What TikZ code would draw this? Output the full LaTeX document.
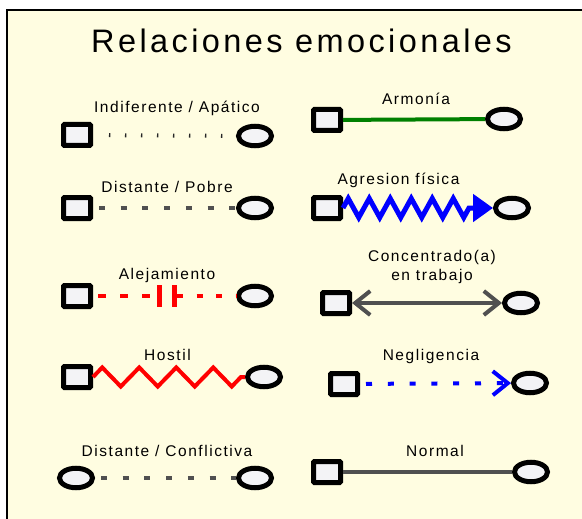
\documentclass[tikz,border=0pt]{standalone}
\usepackage{fontspec}
\setmainfont{Liberation Sans}
\newfontfamily\lblfont[LetterSpace=10]{Liberation Sans}
\newfontfamily\ttlfont[LetterSpace=10.5]{Liberation Sans}
\usetikzlibrary{shapes.geometric,arrows.meta,decorations.pathmorphing}
\definecolor{bgyellow}{RGB}{255,253,225}
\definecolor{boxfill}{RGB}{243,243,246}
\definecolor{relgray}{RGB}{80,80,80}
\definecolor{relgreen}{RGB}{0,128,0}
\definecolor{relred}{RGB}{255,0,0}
\definecolor{relblue}{RGB}{0,0,255}
\tikzset{
  male/.style={draw=black, line width=5pt, fill=boxfill, minimum width=27pt,
    minimum height=21pt, inner sep=0pt, rounded corners=1pt},
  female/.style={ellipse, draw=black, line width=5pt, fill=boxfill,
    minimum width=33pt, minimum height=19.5pt, inner sep=0pt},
  lbl/.style={anchor=base, inner sep=0pt, font=\lblfont\fontsize{15.5}{19}\selectfont},
  ttl/.style={anchor=base, inner sep=0pt, font=\ttlfont\fontsize{32.5}{36}\selectfont},
  relbar/.style={fill=relred, minimum width=5pt, minimum height=22pt, inner sep=0pt},
  rel/.style={line width=4pt},
}
\begin{document}
\begin{tikzpicture}[x=1pt,y=-1pt]
            \clip (0,0) rectangle (582,519);
            \fill [white] (0,0) rectangle (582,519);
            \filldraw [fill=bgyellow, draw=black, line width=1.5pt] (7,10) rectangle (600,540);%
            
            % Title
            \node [ttl] (title) at (301.5,53) {Relaciones emocionales};%
            
            % Left column: symbols
            \node [male] (sq1) at (77,135) {};%
            \node [female] (ci1) at (255,136) {};%
            \node [male] (sq2) at (77,208) {};%
            \node [female] (ci2) at (255,208) {};%
            \node [male] (sq3) at (77,296) {};%
            \node [female] (ci3) at (255,296) {};%
            \node [male] (sq4) at (77,377) {};%
            \node [female] (ci4) at (264,377) {};%
            \node [female] (cl5) at (76,478) {};%
            \node [female] (ci5) at (255,478) {};%
            
            % Right column: symbols
            \node [male] (sq6) at (327,120) {};%
            \node [female] (ci6) at (504,119) {};%
            \node [male] (sq7) at (327,208) {};%
            \node [female] (ci7) at (512,208) {};%
            \node [male] (sq8) at (336,303) {};%
            \node [female] (ci8) at (521,303) {};%
            \node [male] (sq9) at (344,384) {};%
            \node [female] (ci9) at (530,383) {};%
            \node [male] (sq10) at (327,472) {};%
            \node [female] (ci10) at (531,472) {};%
            
            % Labels
            \node [lbl] (indif) at (177,113) {Indiferente / Apático};%
            \node [lbl] (pobre) at (167,193) {Distante / Pobre};%
            \node [lbl] (alej) at (167,279) {Alejamiento};%
            \node [lbl] (hostil) at (167.5,360) {Hostil};%
            \node [lbl] (confl) at (167,456) {Distante / Conflictiva};%
            \node [lbl] (armon) at (416,105) {Armonía};%
            \node [lbl] (agres) at (398.5,185) {Agresion física};%
            \node [lbl, align=center] (concen) at (432,280) {Concentrado(a)\\en trabajo};%
            \node [lbl] (negli) at (431,360) {Negligencia};%
            \node [lbl] (normal) at (435,456) {Normal};%
            
            % Drawing relation Indiferente / Apatico
            \draw [line width=4pt, black!85, dash pattern=on 1.3pt off 14.7pt, shorten <=16pt, shorten >=11pt] (sq1) -- (ci1);%
            
            % Drawing relation Distante / Pobre
            \draw [rel, relgray, dash pattern=on 6pt off 15.7pt, shorten <=6pt] (sq2) -- (ci2);%
            
            % Drawing relation Alejamiento
            \node [relbar] (bara) at (159.5,296) {};%
            \node [relbar] (barb) at (174.5,296) {};%
            \draw [rel, relred, dash pattern=on 7.5pt off 14.5pt, shorten <=5pt] (sq3) -- (bara);%
            \draw [rel, relred, dash pattern=on 6pt off 13.5pt] (barb) -- (ci3);%
            
            % Drawing relation Hostil
            \draw [rel, relred, decorate, decoration={zigzag, segment length=37pt, amplitude=9.5pt}] (sq4) -- (ci4);%
            
            % Drawing relation Distante / Conflictiva
            \draw [rel, relgray, dash pattern=on 6pt off 15.7pt, shorten <=6pt] (cl5) -- (ci5);%
            
            % Drawing relation Armonia
            \draw [rel, relgreen] (sq6) -- (ci6);%
            
            % Drawing relation Agresion fisica
            \draw [line width=5pt, relblue, -{Triangle[length=20pt,width=27pt]}, decorate,
              decoration={zigzag, segment length=21pt, amplitude=9.5pt, post length=21pt}] (sq7) -- (ci7);%
            
            % Drawing relation Concentrado(a) en trabajo
            \draw [rel, relgray, {Straight Barb[length=15pt,width=24pt]}-{Straight Barb[length=15pt,width=24pt]}] (sq8) -- (ci8);%
            
            % Drawing relation Negligencia
            \draw [rel, relblue, dash pattern=on 6pt off 15.8pt, shorten <=6pt, -{Straight Barb[length=15pt,width=24pt]}] (sq9) -- (ci9);%
            
            % Drawing relation Normal
            \draw [rel, relgray] (sq10) -- (ci10);%
\end{tikzpicture}
\end{document}
